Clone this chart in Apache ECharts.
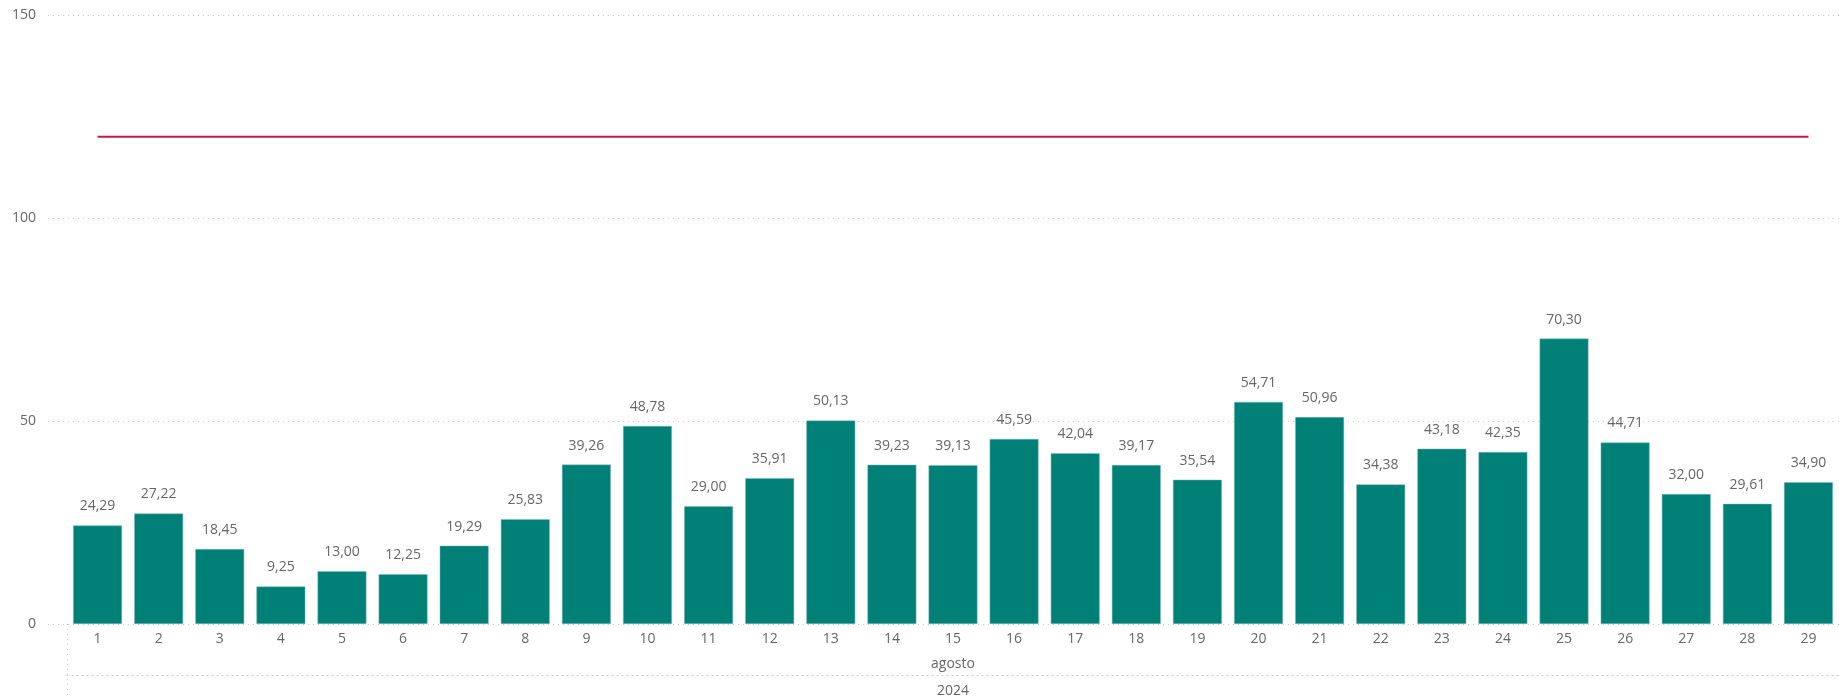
<!DOCTYPE html>
<html>
<head>
<meta charset="utf-8">
<script src="https://cdn.jsdelivr.net/npm/echarts@6/dist/echarts.min.js"></script>
<style>
html,body{margin:0;padding:0;background:#fff;}
#chart{width:1839px;height:699px;}
</style>
</head>
<body>
<div id="chart"></div>
<script>
const days = ['1','2','3','4','5','6','7','8','9','10','11','12','13','14','15','16','17','18','19','20','21','22','23','24','25','26','27','28','29'];
const values = [24.29,27.22,18.45,9.25,13.00,12.25,19.29,25.83,39.26,48.78,29.00,35.91,50.13,39.23,39.13,45.59,42.04,39.17,35.54,54.71,50.96,34.38,43.18,42.35,70.30,44.71,32.00,29.61,34.90];
const target = [120,120,120,120,120,120,120,120,120,120,120,120,120,120,120,120,120,120,120,120,120,120,120,120,120,120,120,120,120];
const monthLabel = ['agosto'];
const yearLabel = ['2024'];
const yTicks = [0, 50, 100, 150];

const FONT = 'Open Sans';
const TXT = '#666666';
const GRIDC = '#c8c8c8';
const FS = 14;

const chart = echarts.init(document.getElementById('chart'), null, {renderer:'canvas'});
chart.setOption({
  animation: false,
  textStyle: {fontFamily: FONT},
  grid: [
    {left: 48, right: 0, top: 15, bottom: 75, containLabel: false, outerBoundsMode: 'none'},
    {left: 67, right: 0, top: 15, bottom: 75, containLabel: false, outerBoundsMode: 'none'}
  ],
  xAxis: [
    {gridIndex: 0, type: 'category', data: days, show: false},
    {gridIndex: 1, type: 'category', data: days, position: 'bottom',
      axisLine: {show: false}, axisTick: {show: false},
      axisLabel: {color: TXT, fontSize: FS, fontFamily: FONT, margin: 8, interval: 0}},
    {gridIndex: 1, type: 'category', data: monthLabel, position: 'bottom', offset: 0,
      axisLine: {show: false},
      axisTick: {show: true, length: 75, lineStyle: {color: GRIDC, type: [1, 4]}},
      axisLabel: {color: TXT, fontSize: FS, fontFamily: FONT, margin: 33}},
    {gridIndex: 1, type: 'category', data: yearLabel, position: 'bottom', offset: 51,
      axisLine: {show: true, lineStyle: {color: GRIDC, type: [1, 4]}},
      axisTick: {show: false},
      axisLabel: {color: TXT, fontSize: FS, fontFamily: FONT, margin: 9}}
  ],
  yAxis: [
    {gridIndex: 0, type: 'value', min: yTicks[0], max: yTicks[yTicks.length-1], interval: 50,
      axisLine: {show: false}, axisTick: {show: false},
      axisLabel: {color: TXT, fontSize: FS, fontFamily: FONT, margin: 12},
      splitLine: {show: true, lineStyle: {color: GRIDC, type: [1, 4]}}},
    {gridIndex: 1, type: 'value', min: yTicks[0], max: yTicks[yTicks.length-1], interval: 50, show: false,
      splitLine: {show: false}}
  ],
  series: [
    {type: 'bar', xAxisIndex: 1, yAxisIndex: 1, data: values, barCategoryGap: '20%',
      itemStyle: {color: '#008077', borderColor: '#7fbfba', borderWidth: 0.5},
      label: {show: true, position: 'top', distance: 12, color: TXT, fontSize: FS, fontFamily: FONT,
        formatter: p => p.value.toFixed(2).replace('.', ',')}},
    {type: 'line', xAxisIndex: 1, yAxisIndex: 1, data: target, symbol: 'none',
      lineStyle: {color: '#C8174A', width: 2}, z: 3}
  ]
});
</script>
</body>
</html>
